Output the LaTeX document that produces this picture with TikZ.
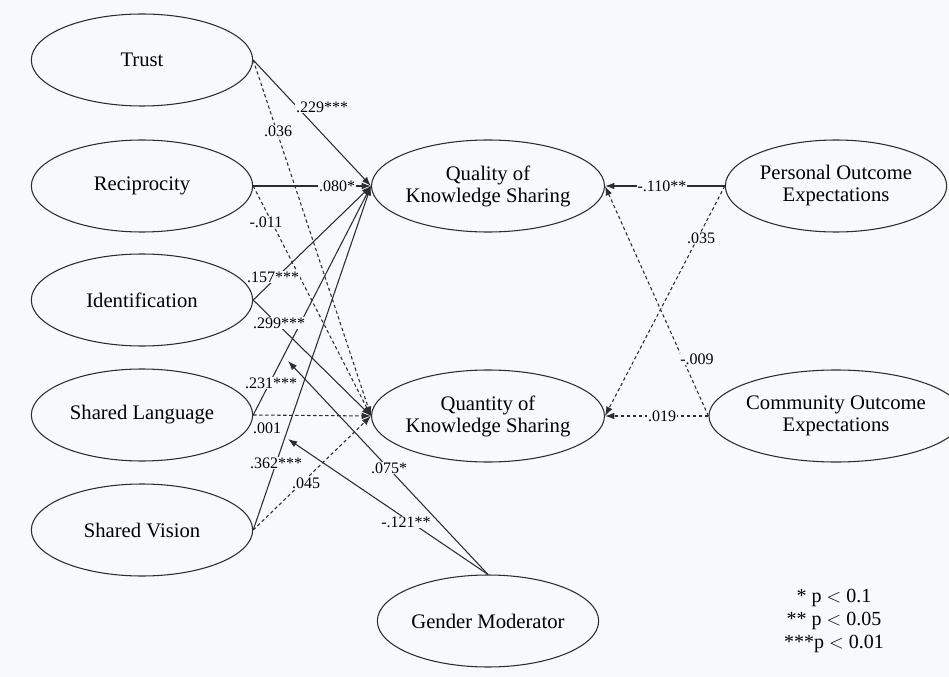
\documentclass[tikz,border=0pt]{standalone}
\usepackage{fontspec}
\setmainfont{Liberation Serif}
\usepackage{xcolor}
\usetikzlibrary{arrows.meta}
\usetikzlibrary{shapes.geometric}
\definecolor{bgcol}{RGB}{248,249,250}
\definecolor{lncol}{RGB}{45,45,45}

\begin{document}
\begin{tikzpicture}[x=0.75pt, y=-0.75pt,
  latent/.style={ellipse, draw=lncol, line width=0.8pt, minimum width=166pt, minimum height=69pt, inner sep=0pt, align=center, font=\fontsize{15.5}{16.5}\selectfont},
  sig/.style={-{Latex[length=7pt,width=5pt]}, draw=lncol, line width=0.8pt},
  nonsig/.style={sig, dash pattern=on 2.5pt off 2pt},
  coef/.style={fill=bgcol, inner sep=0.6pt, font=\fontsize{12}{13}\selectfont}
]
\fill[bgcol] (0,0) rectangle (949,677);
\useasboundingbox (0,0) rectangle (949,677);

\node[latent] (trust) at (142,60) {Trust};
\node[latent] (recip) at (142,186) {Reciprocity};
\node[latent] (ident) at (142,300) {Identification};
\node[latent] (shlang) at (142,415) {Shared Language};
\node[latent] (shvis) at (142,530) {Shared Vision};

\node[latent] (qual) at (488,186) {Quality of\\Knowledge Sharing};
\node[latent] (quant) at (488,416) {Quantity of\\Knowledge Sharing};
\node[latent] (gender) at (488,621) {Gender Moderator};

\node[latent] (persout) at (836,186) {Personal Outcome\\Expectations};
\node[latent] (commout) at (836,416) {Community Outcome\\Expectations};

\coordinate (modA) at (288,361);
\coordinate (modB) at (288,439);

\draw[sig] (trust.east) -- (qual.west);
\draw[nonsig] (trust.east) -- (quant.west);
\draw[sig] (recip.east) -- (qual.west);
\draw[nonsig] (recip.east) -- (quant.west);
\draw[sig] (ident.east) -- (qual.west);
\draw[sig] (ident.east) -- (quant.west);
\draw[sig] (shlang.east) -- (qual.west);
\draw[nonsig] (shlang.east) -- (quant.west);
\draw[sig] (shvis.east) -- (qual.west);
\draw[nonsig] (shvis.east) -- (quant.west);

\draw[sig] (persout.west) -- (qual.east);
\draw[nonsig] (persout.west) -- (quant.east);
\draw[nonsig] (commout.west) -- (qual.east);
\draw[nonsig] (commout.west) -- (quant.east);

\draw[sig] (gender.north) -- (modA);
\draw[sig] (gender.north) -- (modB);

\node[coef] (c229) at (322,107) {.229***};
\node[coef] (c036) at (278,131) {.036};
\node[coef] (c080) at (337,186) {.080*};
\node[coef] (c011) at (266,222) {-.011};
\node[coef] (c157) at (273,277) {.157***};
\node[coef] (c299) at (279,323) {.299***};
\node[coef] (c231) at (271,383) {.231***};
\node[coef] (c001) at (267,428) {.001};
\node[coef] (c362) at (276,463) {.362***};
\node[coef] (c045) at (306,483) {.045};
\node[coef] (c075) at (389,468) {.075*};
\node[coef] (c121) at (406,522) {-.121**};
\node[coef] (c110) at (662,186) {-.110**};
\node[coef] (c035) at (701,238) {.035};
\node[coef] (c009) at (697,359) {-.009};
\node[coef] (c019) at (662,416) {.019};

\node[align=center, font=\fontsize{15}{17.5}\selectfont] (legend) at (834,621) {* p $<$ 0.1\\** p $<$ 0.05\\***p $<$ 0.01};
\end{tikzpicture}
\end{document}
